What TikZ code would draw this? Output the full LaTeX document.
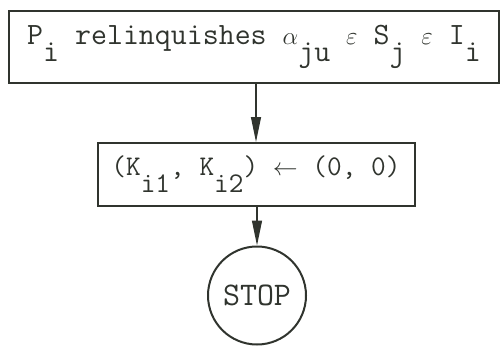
\documentclass[tikz,border=0pt]{standalone}
\usepackage{fontspec}
\usetikzlibrary{shapes,arrows.meta,positioning}
\definecolor{inkcolor}{RGB}{48,52,46}
\newcommand{\lowr}[1]{\raisebox{-17pt}{#1}}

\begin{document}
\begin{tikzpicture}[x=1pt, y=-1pt,
    procbox/.style={
        rectangle, draw=inkcolor, line width=2pt,
        align=center, inner sep=0pt, text=inkcolor,
        font=\ttfamily\fontsize{31}{34}\selectfont
    },
    endcircle/.style={
        circle, draw=inkcolor, line width=2pt, minimum size=98pt,
        inner sep=0pt, text=inkcolor,
        font=\ttfamily\fontsize{33}{36}\selectfont
    },
    flow/.style={-{Triangle[length=25pt,width=10pt]}, line width=1.2pt, inkcolor}
]
\useasboundingbox (0,0) rectangle (500,346);

% Release step
\node[procbox, minimum width=490pt, minimum height=72pt] (relinq) at (254,47) {%
    P\lowr{i} relinquishes $\alpha$\lowr{ju} $\varepsilon$ S\lowr{j} $\varepsilon$ I\lowr{i}%
};

% Reset step
\node[procbox, minimum width=317pt, minimum height=63pt,
      font=\ttfamily\fontsize{28.5}{32}\selectfont] (reset) at (256,174.5) {%
    (K\lowr{i1}, K\lowr{i2}) $\leftarrow$ (0, 0)%
};

% Terminal
\node[endcircle] (stop) at (257,295.5) {STOP};

% Flow
\draw[flow] (relinq.south -| reset) -- (reset);
\draw[flow] (reset.south -| stop) -- (stop);

\end{tikzpicture}
\end{document}
